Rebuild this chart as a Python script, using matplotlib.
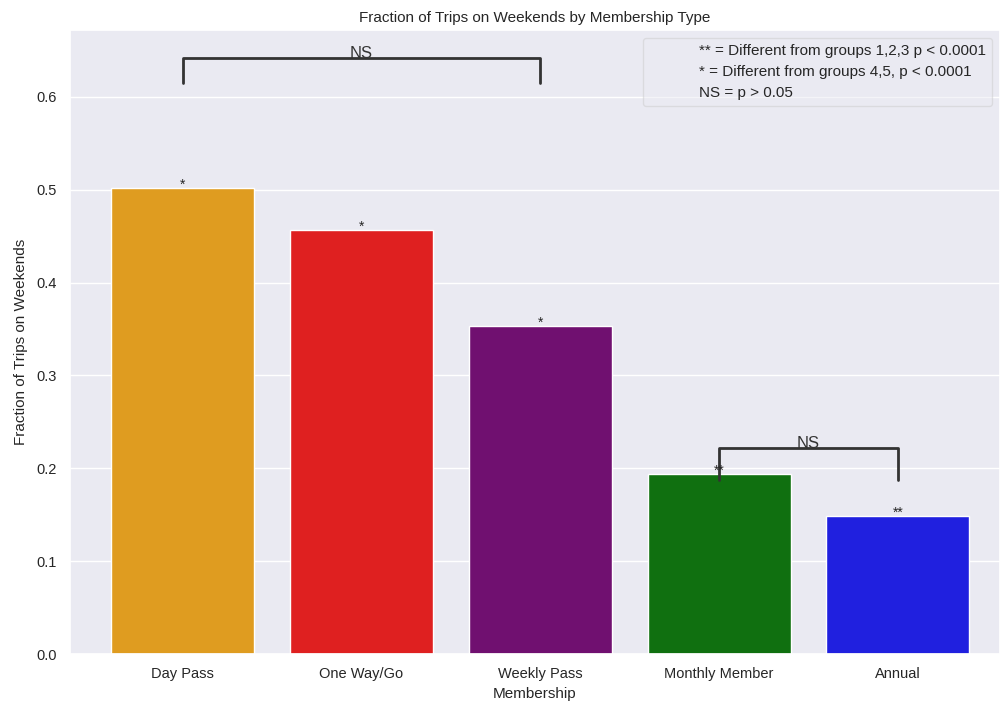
import matplotlib
matplotlib.use('Agg')
import matplotlib.pyplot as plt
import seaborn as sns
from matplotlib.lines import Line2D

memberships = ['Day Pass', 'One Way/Go', 'Weekly Pass', 'Monthly Member', 'Annual']
weekend_frac = [0.502, 0.457, 0.353, 0.194, 0.149]
bar_colors = ['orange', 'red', 'purple', 'green', 'blue']
stars = ['*', '*', '*', '**', '**']
legend_text = ['** = Different from groups 1,2,3 p < 0.0001',
               '* = Different from groups 4,5, p < 0.0001',
               'NS = p > 0.05']

sns.set_theme(style='darkgrid')
plt.rcParams['font.family'] = ['Liberation Sans', 'DejaVu Sans']

fig = plt.figure(figsize=(10.02, 7.05), dpi=100)
ax = fig.add_axes([0.0699, 0.0723, 0.928, 0.885])

sns.barplot(x=memberships, y=weekend_frac, hue=memberships, palette=bar_colors,
            legend=False, ax=ax)

for i, (v, s) in enumerate(zip(weekend_frac, stars)):
    ax.text(i, v - 0.004, s, ha='center', va='bottom', fontsize=10, color='#262626')

# significance brackets
ax.plot([0, 0, 2, 2], [0.615, 0.642, 0.642, 0.615], color='#333333', lw=2)
ax.text(1, 0.639, 'NS', ha='center', va='bottom', fontsize=12, color='#333333')
ax.plot([3, 3, 4, 4], [0.1875, 0.222, 0.222, 0.1875], color='#333333', lw=2)
ax.text(3.5, 0.219, 'NS', ha='center', va='bottom', fontsize=12, color='#333333')

handles = [Line2D([], [], linestyle='none') for _ in legend_text]
ax.legend(handles, legend_text, loc='upper right', fontsize=11, framealpha=0.5,
          handlelength=2.5, labelspacing=0.45)

ax.set_xlim(-0.63, 4.57)
ax.set_ylim(0, 0.672)
ax.set_xlabel('Membership', fontsize=11)
ax.set_ylabel('Fraction of Trips on Weekends', fontsize=11, labelpad=6)
ax.set_title('Fraction of Trips on Weekends by Membership Type', fontsize=11)
ax.tick_params(labelsize=10.5)

plt.savefig('out.png', dpi=100)
